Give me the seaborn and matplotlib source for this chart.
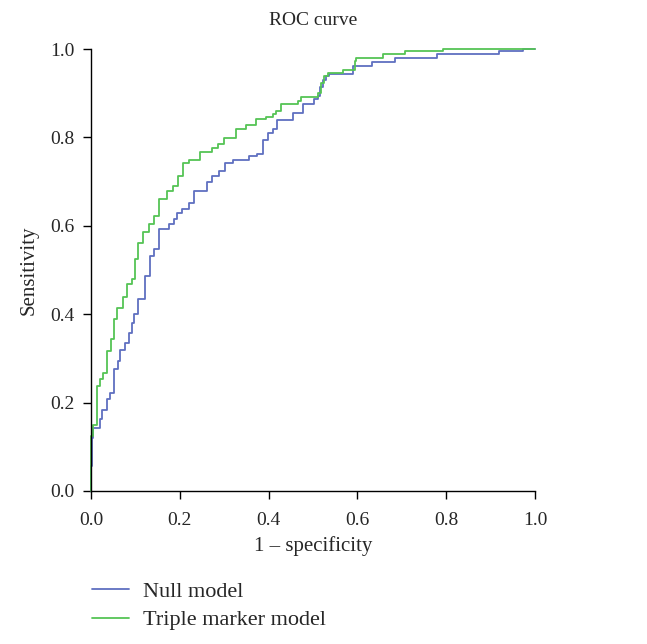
import numpy as np
import pandas as pd
import seaborn as sns
import matplotlib as mpl
import matplotlib.pyplot as plt

# ROC points (fpr where the step happens, tpr after it)
null_fpr = [0.000, 0.000, 0.002, 0.004, 0.020, 0.024, 0.036, 0.043, 0.051, 0.060,
            0.066, 0.077, 0.085, 0.092, 0.098, 0.107, 0.122, 0.134, 0.141, 0.153,
            0.175, 0.186, 0.194, 0.205, 0.220, 0.232, 0.262, 0.273, 0.288, 0.303,
            0.319, 0.356, 0.375, 0.387, 0.398, 0.409, 0.420, 0.454, 0.477, 0.503,
            0.511, 0.515, 0.523, 0.530, 0.537, 0.590, 0.632, 0.685, 0.779, 0.919,
            0.972, 1.000]
null_tpr = [0.000, 0.057, 0.121, 0.143, 0.162, 0.184, 0.207, 0.222, 0.275, 0.294,
            0.320, 0.335, 0.358, 0.381, 0.400, 0.434, 0.486, 0.532, 0.547, 0.592,
            0.604, 0.615, 0.630, 0.637, 0.652, 0.679, 0.698, 0.713, 0.724, 0.743,
            0.750, 0.758, 0.762, 0.795, 0.810, 0.818, 0.839, 0.855, 0.875, 0.888,
            0.894, 0.913, 0.931, 0.939, 0.943, 0.962, 0.971, 0.980, 0.988, 0.995,
            1.000, 1.000]

triple_fpr = [0.000, 0.000, 0.005, 0.013, 0.020, 0.028, 0.036, 0.045, 0.051, 0.058,
              0.073, 0.081, 0.092, 0.100, 0.107, 0.118, 0.130, 0.141, 0.154, 0.171,
              0.184, 0.196, 0.207, 0.220, 0.245, 0.273, 0.285, 0.300, 0.326, 0.349,
              0.371, 0.394, 0.409, 0.417, 0.428, 0.466, 0.473, 0.511, 0.518, 0.526,
              0.533, 0.567, 0.594, 0.598, 0.658, 0.707, 0.794, 1.000]
triple_tpr = [0.000, 0.124, 0.150, 0.238, 0.253, 0.268, 0.317, 0.343, 0.388, 0.414,
              0.440, 0.468, 0.479, 0.524, 0.562, 0.585, 0.604, 0.622, 0.660, 0.679,
              0.690, 0.713, 0.741, 0.750, 0.767, 0.777, 0.784, 0.799, 0.819, 0.827,
              0.841, 0.847, 0.854, 0.860, 0.875, 0.882, 0.892, 0.901, 0.924, 0.939,
              0.946, 0.952, 0.973, 0.980, 0.988, 0.995, 1.000, 1.000]

models = ['Null model', 'Triple marker model']
colors = ['#5f6fc0', '#55c455']
ticks = [0.0, 0.2, 0.4, 0.6, 0.8, 1.0]

sns.set_style('white')
mpl.rc('font', family=['Liberation Serif', 'DejaVu Serif'], size=14)
mpl.rc('axes', edgecolor='black', linewidth=1.0)

df = pd.concat([
    pd.DataFrame({'fpr': null_fpr, 'tpr': null_tpr, 'model': models[0]}),
    pd.DataFrame({'fpr': triple_fpr, 'tpr': triple_tpr, 'model': models[1]}),
])

fig = plt.figure(figsize=(6.47, 6.44), dpi=100)
ax = fig.add_axes([0.1406, 0.2376, 0.6862, 0.6863])

sns.lineplot(data=df, x='fpr', y='tpr', hue='model', palette=colors,
             estimator=None, sort=False, drawstyle='steps-post',
             linewidth=1.3, clip_on=False, legend=False, ax=ax)

ax.set_xlim(0, 1)
ax.set_ylim(0, 1)
ax.set_xticks(ticks)
ax.set_yticks(ticks)
ax.set_xticklabels(['%.1f' % t for t in ticks])
ax.set_yticklabels(['%.1f' % t for t in ticks])
ax.tick_params(direction='out', length=6, width=1, color='black',
               labelsize=14, bottom=True, left=True)
ax.tick_params(axis='x', pad=9)
ax.tick_params(axis='y', pad=6)
sns.despine(ax=ax)

ax.set_title('ROC curve', fontsize=14, pad=17)
ax.set_xlabel('1 \u2013 specificity', fontsize=15, labelpad=5)
ax.set_ylabel('Sensitivity', fontsize=15, labelpad=8)

handles = [mpl.lines.Line2D([], [], color=c, linewidth=1.3) for c in colors]
fig.legend(handles, models, loc='upper left', bbox_to_anchor=(0.128, 0.111),
           frameon=False, fontsize=16, handlelength=1.7, handletextpad=0.6,
           labelspacing=0.35, borderaxespad=0)

fig.savefig('out.png', dpi=100)
